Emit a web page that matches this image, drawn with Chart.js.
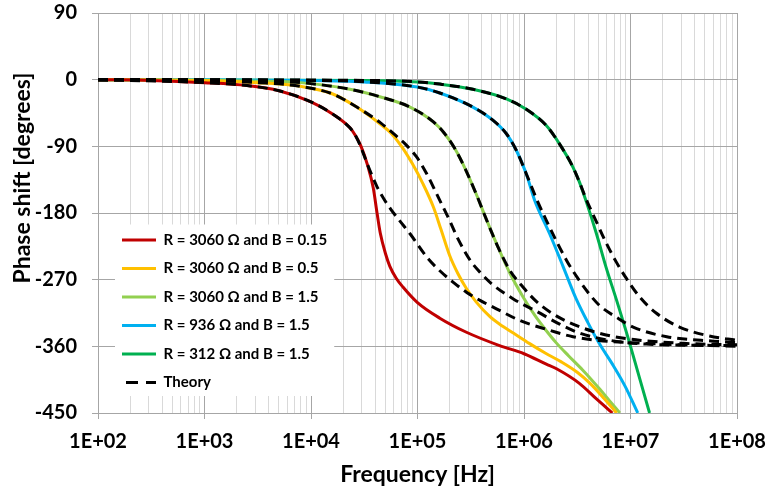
<!DOCTYPE html>
<html>
<head>
<meta charset="utf-8">
<script src="https://cdn.jsdelivr.net/npm/chart.js@4/dist/chart.umd.min.js"></script>
<style>
  html, body { margin: 0; padding: 0; background: #ffffff; }
  #wrap { width: 768px; height: 492px; }
</style>
</head>
<body>
<div id="wrap"><canvas id="c" width="768" height="492"></canvas></div>
<script>
// ---------------- DATA ----------------
const seriesLabels = [
  'R = 3060 \u03A9 and B = 0.15',
  'R = 3060 \u03A9 and B = 0.5',
  'R = 3060 \u03A9 and B = 1.5',
  'R = 936 \u03A9 and B = 1.5',
  'R = 312 \u03A9 and B = 1.5',
  'Theory'
];

// Measured curves (frequency in Hz, phase in degrees)
const redFreq   = [1e2, 3.16e2, 1e3, 2.51e3, 5.01e3, 1e4, 1.58e4, 2.32e4, 2.63e4, 2.95e4, 3.39e4, 3.84e4, 4.17e4, 4.47e4, 5.01e4, 5.5e4, 6.31e4, 7.3e4, 1e5, 1.62e5, 2.88e5, 5.89e5, 1e6, 1.62e6, 2e6, 3.31e6, 4.79e6, 6.76e6];
const redPhase  = [0, -1, -4, -8, -15, -30, -46, -65, -76, -90, -115, -146, -180, -207, -235, -252, -268, -280, -301, -322, -341, -359, -370, -384, -390, -410, -431, -450];

const orangeFreq  = [1e2, 1e3, 3.16e3, 7.94e3, 1.58e4, 2.69e4, 4.47e4, 5.62e4, 7.08e4, 8.91e4, 1.12e5, 1.41e5, 1.66e5, 2e5, 2.4e5, 2.88e5, 3.55e5, 4.79e5, 6.31e5, 7.94e5, 1.12e6, 1.58e6, 2.24e6, 3.16e6, 4.17e6, 5.62e6, 7.41e6];
const orangePhase = [0, -1, -4, -9, -19, -37, -60, -72, -90, -113, -140, -172, -202, -237, -262, -282, -300, -320, -333, -342, -356, -369, -381, -395, -410, -430, -450];

const lgreenFreq  = [1e2, 1e3, 3.16e3, 7.94e3, 2.32e4, 4.68e4, 8.51e4, 1.41e5, 1.78e5, 2.24e5, 2.82e5, 3.55e5, 4.47e5, 5.62e5, 7.41e5, 9.77e5, 1.26e6, 1.58e6, 2e6, 2.63e6, 3.55e6, 5.01e6, 6.31e6, 7.94e6];
const lgreenPhase = [0, -1, -2, -4, -13, -24, -37, -57, -72, -93, -121, -154, -190, -224, -262, -293, -318, -337, -355, -373, -392, -416, -433, -450];

const blueFreq  = [1e2, 1e4, 3.16e4, 1e5, 1.62e5, 3.31e5, 5.13e5, 6.84e5, 8.51e5, 1.05e6, 1.26e6, 1.74e6, 2.34e6, 3.09e6, 3.98e6, 5.13e6, 6.76e6, 8.91e6, 1.17e7];
const bluePhase = [0, -1, -3, -10, -18, -37, -55, -73, -96, -127, -163, -208, -253, -296, -328, -357, -384, -414, -450];

const dgreenFreq  = [1e2, 3.16e4, 1e5, 1.62e5, 3.31e5, 6.84e5, 1.05e6, 1.62e6, 2.16e6, 2.88e6, 3.31e6, 3.85e6, 4.79e6, 5.89e6, 7.41e6, 9.55e6, 1.2e7, 1.51e7];
const dgreenPhase = [0, -1, -3, -6, -13, -26, -40, -62, -87, -118, -138, -165, -208, -253, -298, -350, -400, -450];

// Theory curves (dashed)
const theory1Freq  = [1e2, 1e3, 2.51e3, 5.01e3, 1e4, 1.58e4, 2.32e4, 2.63e4, 2.88e4, 3.47e4, 4.12e4, 4.79e4, 5.62e4, 6.76e4, 8.51e4, 1.23e5, 1.62e5, 2.14e5, 2.88e5, 3.98e5, 5.13e5, 9.12e5, 1.62e6, 2.88e6, 5.01e6, 1e7, 3.16e7, 1e8];
const theory1Phase = [0, -4, -8, -15, -30, -46, -65, -76, -88, -118, -143, -160, -175, -190, -208, -240, -258, -273, -287, -299, -307, -325, -337, -347, -352, -355, -358, -360];

const theory2Freq  = [1e2, 1e3, 3.16e3, 7.94e3, 1.58e4, 2.69e4, 4.47e4, 6.31e4, 7.94e4, 9.77e4, 1.22e5, 1.51e5, 2e5, 2.4e5, 3.16e5, 3.98e5, 5.01e5, 7.94e5, 1.32e6, 2.16e6, 3.31e6, 5.89e6, 1.41e7, 1e8];
const theory2Phase = [0, -1, -4, -9, -19, -37, -58, -76, -89, -104, -127, -154, -190, -215, -245, -262, -276, -296, -313, -330, -342, -351, -357, -359];

const theory3Freq  = [1e2, 1e3, 3.16e3, 7.94e3, 2.32e4, 4.68e4, 8.51e4, 1.41e5, 1.78e5, 2.24e5, 2.82e5, 3.55e5, 4.47e5, 5.62e5, 7.41e5, 9.77e5, 1.32e6, 1.86e6, 2.88e6, 4.47e6, 7.08e6, 1.26e7, 3.16e7, 1e8];
const theory3Phase = [0, -1, -2, -4, -13, -24, -37, -57, -72, -93, -121, -154, -190, -224, -258, -280, -300, -316, -330, -340, -347, -352, -356, -358];

const theory4Freq  = [1e2, 1e4, 3.16e4, 1e5, 1.62e5, 3.31e5, 5.13e5, 6.84e5, 8.51e5, 1.05e6, 1.32e6, 1.62e6, 2e6, 2.51e6, 3.16e6, 3.98e6, 5.13e6, 7.41e6, 1.06e7, 2.19e7, 6.03e7, 1e8];
const theory4Phase = [0, -1, -3, -10, -18, -37, -55, -73, -96, -127, -162, -190, -217, -244, -267, -287, -305, -321, -334, -347, -353, -355];

const theory5Freq  = [1e2, 3.16e4, 1e5, 1.62e5, 3.31e5, 6.84e5, 1.05e6, 1.62e6, 2.16e6, 2.88e6, 3.31e6, 3.85e6, 4.79e6, 5.89e6, 7.41e6, 9.12e6, 1.23e7, 1.74e7, 2.88e7, 5.5e7, 1e8];
const theory5Phase = [0, -1, -3, -6, -13, -26, -40, -62, -87, -118, -138, -162, -192, -220, -247, -268, -294, -315, -334, -346, -352];

// Axis ticks
const xDecades    = [1e2, 1e3, 1e4, 1e5, 1e6, 1e7, 1e8];
const xTickLabels = ['1E+02', '1E+03', '1E+04', '1E+05', '1E+06', '1E+07', '1E+08'];
const xMinorSteps = [2, 3, 4, 5, 6, 7, 8, 9];
const yTicks      = [90, 0, -90, -180, -270, -360, -450];

// ---------------- STYLE ----------------
const FONT = 'Lato, Carlito, "Open Sans", sans-serif';
const measuredColors = ['#C00000', '#FFC000', '#92D050', '#00B0F0', '#00B050'];
const GRID_MAJOR = '#A6A6A6';
const GRID_MINOR = '#D9D9D9';
const Y_TITLE_RAISE = 35;   // y-axis title sits above the plot-area centre in the original

function pts(f, p) { return f.map((v, i) => ({ x: v, y: p[i] })); }

const measuredSets = [
  [redFreq, redPhase], [orangeFreq, orangePhase], [lgreenFreq, lgreenPhase],
  [blueFreq, bluePhase], [dgreenFreq, dgreenPhase]
];
const theorySets = [
  [theory1Freq, theory1Phase], [theory2Freq, theory2Phase], [theory3Freq, theory3Phase],
  [theory4Freq, theory4Phase], [theory5Freq, theory5Phase]
];

const datasets = [];
measuredSets.forEach((s, i) => {
  datasets.push({
    label: seriesLabels[i], data: pts(s[0], s[1]),
    borderColor: measuredColors[i], backgroundColor: measuredColors[i],
    borderWidth: 3, pointRadius: 0, pointHoverRadius: 0, fill: false,
    cubicInterpolationMode: 'monotone', order: 1
  });
});
theorySets.forEach((s) => {
  datasets.push({
    label: seriesLabels[5], data: pts(s[0], s[1]),
    borderColor: '#000000', backgroundColor: '#000000',
    borderWidth: 3, borderDash: [10, 6], pointRadius: 0, pointHoverRadius: 0, fill: false,
    cubicInterpolationMode: 'monotone', order: 0
  });
});

const xTickList = [];
xDecades.forEach((d, i) => {
  xTickList.push({ value: d, major: true });
  if (i < xDecades.length - 1) xMinorSteps.forEach(m => xTickList.push({ value: m * d, major: false }));
});

// Legend placed inside the plot area with a white background; y title raised
const legendInPlot = {
  id: 'legendInPlot',
  afterLayout(chart) {
    const lg = chart.legend, ca = chart.chartArea;
    if (lg) {
      const w = lg.width, h = lg.height;
      lg.left = ca.left + 10.5;
      lg.top = ca.top + 206;
      lg.right = lg.left + w;
      lg.bottom = lg.top + h;
    }
    const ys = chart.scales.y;
    if (ys && !ys.__titlePatched) {
      const orig = ys.drawTitle;
      ys.drawTitle = function () {
        const b = this.bottom;
        this.bottom = b - 2 * Y_TITLE_RAISE;
        orig.call(this);
        this.bottom = b;
      };
      ys.__titlePatched = true;
    }
  },
  beforeDatasetsDraw(chart) {
    const lg = chart.legend;
    if (!lg || !lg.legendHitBoxes || !lg.legendHitBoxes.length) return;
    const hb = lg.legendHitBoxes;
    let l = Infinity, r = -Infinity, t = Infinity, b = -Infinity;
    hb.forEach(h => {
      l = Math.min(l, h.left); r = Math.max(r, h.left + h.width);
      t = Math.min(t, h.top); b = Math.max(b, h.top + h.height);
    });
    const ctx = chart.ctx;
    ctx.save();
    ctx.fillStyle = '#ffffff';
    ctx.fillRect(l - 7, t - 8, (r - l) + 14, (b - t) + 14);
    ctx.restore();
    lg.draw();
  }
};

new Chart(document.getElementById('c'), {
  type: 'line',
  data: { datasets },
  plugins: [legendInPlot],
  options: {
    responsive: false,
    animation: false,
    events: [],
    layout: { padding: { top: 13, right: 31, left: 0, bottom: 0 } },
    plugins: {
      tooltip: { enabled: false },
      legend: {
        display: true,
        position: 'chartArea',
        align: 'start',
        labels: {
          usePointStyle: true,
          pointStyleWidth: 34,
          padding: 13.5,
          color: '#000000',
          font: { family: FONT, size: 15, weight: 'bold' },
          generateLabels(chart) {
            const seen = new Set();
            const items = [];
            chart.data.datasets.forEach((ds, i) => {
              if (seen.has(ds.label)) return;
              seen.add(ds.label);
              const dashed = !!ds.borderDash;
              items.push({
                text: ds.label, datasetIndex: i, hidden: false,
                fillStyle: ds.borderColor, strokeStyle: ds.borderColor,
                fontColor: '#000000',
                lineWidth: 3, lineCap: 'butt',
                lineDash: dashed ? [12, 8] : [],
                lineDashOffset: dashed ? 16 : 0,
                pointStyle: 'line', rotation: 0
              });
            });
            return items;
          },
          sort: (a, b) => a.datasetIndex - b.datasetIndex
        }
      }
    },
    scales: {
      x: {
        type: 'logarithmic',
        position: 'bottom',
        min: 1e2, max: 1e8,
        afterBuildTicks(scale) { scale.ticks = xTickList.map(t => ({ value: t.value, major: t.major })); },
        afterFit(scale) {
          scale.height = 79;
          scale.paddingLeft = 0; scale.paddingRight = 0;
        },
        ticks: {
          autoSkip: false, maxRotation: 0, minRotation: 0, padding: 11,
          color: '#000000',
          font: { family: FONT, size: 20, weight: 'bold' },
          callback(value) {
            const k = xDecades.indexOf(value);
            return k >= 0 ? xTickLabels[k] : '';
          }
        },
        grid: {
          color: c => (c.tick && c.tick.major) ? GRID_MAJOR : GRID_MINOR,
          tickColor: c => (c.tick && c.tick.major) ? GRID_MAJOR : 'rgba(0,0,0,0)',
          tickLength: 6, lineWidth: 1
        },
        border: { color: GRID_MAJOR, width: 1 },
        title: {
          display: true, text: 'Frequency [Hz]', color: '#000000',
          font: { family: FONT, size: 23, weight: 'bold' },
          padding: { top: 0, bottom: 4 }
        }
      },
      y: {
        type: 'linear',
        min: -450, max: 90,
        afterBuildTicks(scale) { scale.ticks = yTicks.map(v => ({ value: v })); },
        afterFit(scale) {
          scale.width = 98;
          scale.paddingTop = 0; scale.paddingBottom = 0;
        },
        ticks: {
          padding: 15, color: '#000000',
          font: { family: FONT, size: 20, weight: 'bold' }
        },
        grid: { color: GRID_MAJOR, tickColor: GRID_MAJOR, tickLength: 6, lineWidth: 1 },
        border: { color: GRID_MAJOR, width: 1 },
        title: {
          display: true, text: 'Phase shift [degrees]', color: '#000000',
          font: { family: FONT, size: 23, weight: 'bold' },
          padding: { top: 9, bottom: 0 }
        }
      }
    }
  }
});
</script>
</body>
</html>
